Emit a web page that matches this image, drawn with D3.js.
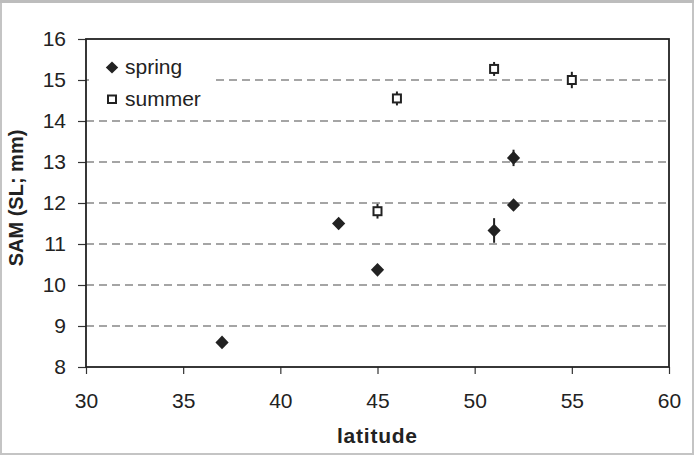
<!DOCTYPE html>
<html><head><meta charset="utf-8">
<script src="https://cdn.jsdelivr.net/npm/d3@7"></script>
<style>body{margin:0;background:#fff}svg{display:block}</style>
</head><body>
<svg id="c" width="694" height="455"></svg>
<script>
const springLat = [37, 43, 45, 51, 52, 52];
const springSAM = [8.6, 11.5, 10.37, 11.33, 13.1, 11.95];
const springErr = [0.1, 0.1, 0.1, 0.3, 0.2, 0.1];
const summerLat = [45, 46, 51, 55];
const summerSAM = [11.8, 14.55, 15.27, 15.0];
const summerErr = [0.18, 0.17, 0.17, 0.2];
const xTicks = [30, 35, 40, 45, 50, 55, 60];
const yTicks = [8, 9, 10, 11, 12, 13, 14, 15, 16];
const seriesNames = ["spring", "summer"];

const svg = d3.select("#c");
const L = 86, R = 669, T = 39, B = 367;
const x = d3.scaleLinear().domain([30, 60]).range([L, R]);
const y = d3.scaleLinear().domain([8, 16]).range([B, T]);
const font = "Arial, 'Liberation Sans', sans-serif";

// outer frame
svg.append("rect").attr("x", 1).attr("y", 1).attr("width", 692).attr("height", 453)
  .attr("fill", "none").attr("stroke", "#c4c4c4").attr("stroke-width", 2);
svg.append("rect").attr("x", 0).attr("y", 0).attr("width", 694).attr("height", 3).attr("fill", "#bdbdbd");

// gridlines
svg.append("g").selectAll("line").data(yTicks.filter(v => v > 8 && v < 16)).join("line")
  .attr("x1", L).attr("x2", R).attr("y1", d => y(d)).attr("y2", d => y(d))
  .attr("stroke", "#888").attr("stroke-width", 1.3).attr("stroke-dasharray", "8,5");

// axes
const ya = svg.append("g").attr("transform", `translate(${L},0)`)
  .call(d3.axisLeft(y).tickValues(yTicks).tickSize(8).tickPadding(12).tickSizeOuter(0));
const xa = svg.append("g").attr("transform", `translate(0,${B})`)
  .call(d3.axisBottom(x).tickValues(xTicks).tickSize(7).tickPadding(19).tickSizeOuter(0));
[ya, xa].forEach(g => {
  g.select(".domain").remove();
  g.selectAll("line").attr("stroke", "#333").attr("stroke-width", 1.2);
  g.selectAll("text").attr("font-family", font).attr("font-size", 21).attr("fill", "#222");
});

// plot border
svg.append("rect").attr("x", L).attr("y", T).attr("width", R - L).attr("height", B - T)
  .attr("fill", "none").attr("stroke", "#222").attr("stroke-width", 1.8);

// legend background
svg.append("rect").attr("x", 89).attr("y", 45).attr("width", 125).attr("height", 70).attr("fill", "#fff");

const diamondPath = "M0,-6.8L6.6,0L0,6.8L-6.6,0Z";

// error bars
const spring = springLat.map((v, i) => ({x: v, y: springSAM[i], e: springErr[i]}));
const summer = summerLat.map((v, i) => ({x: v, y: summerSAM[i], e: summerErr[i]}));
svg.append("g").selectAll("line").data(spring.concat(summer)).join("line")
  .attr("x1", d => x(d.x)).attr("x2", d => x(d.x))
  .attr("y1", d => y(d.y - d.e)).attr("y2", d => y(d.y + d.e))
  .attr("stroke", "#222").attr("stroke-width", 2);

// spring markers
svg.append("g").selectAll("path").data(spring).join("path")
  .attr("d", diamondPath).attr("transform", d => `translate(${x(d.x)},${y(d.y)})`)
  .attr("fill", "#222");
// summer markers
svg.append("g").selectAll("rect").data(summer).join("rect")
  .attr("x", d => x(d.x) - 4).attr("y", d => y(d.y) - 4).attr("width", 8).attr("height", 8)
  .attr("fill", "#fff").attr("stroke", "#222").attr("stroke-width", 2);

// legend
svg.append("path").attr("d", "M0,-6L6.2,0L0,6L-6.2,0Z").attr("transform", "translate(112,67.5)").attr("fill", "#222");
svg.append("rect").attr("x", 108).attr("y", 95.5).attr("width", 8).attr("height", 7.5)
  .attr("fill", "#fff").attr("stroke", "#222").attr("stroke-width", 2);
svg.append("text").attr("x", 125).attr("y", 74).text(seriesNames[0])
  .attr("font-family", font).attr("font-size", 21).attr("fill", "#222");
svg.append("text").attr("x", 125).attr("y", 106).text(seriesNames[1])
  .attr("font-family", font).attr("font-size", 21).attr("fill", "#222");

// axis titles
svg.append("text").attr("x", 377).attr("y", 443).attr("text-anchor", "middle")
  .attr("font-family", font).attr("font-size", 21).attr("font-weight", "bold").attr("fill", "#222")
  .attr("textLength", 80).attr("lengthAdjust", "spacing")
  .text("latitude");
svg.append("text").attr("transform", `translate(23,198) rotate(-90)`).attr("text-anchor", "middle")
  .attr("font-family", font).attr("font-size", 20).attr("font-weight", "bold").attr("fill", "#222")
  .text("SAM (SL; mm)");
</script>
</body></html>
